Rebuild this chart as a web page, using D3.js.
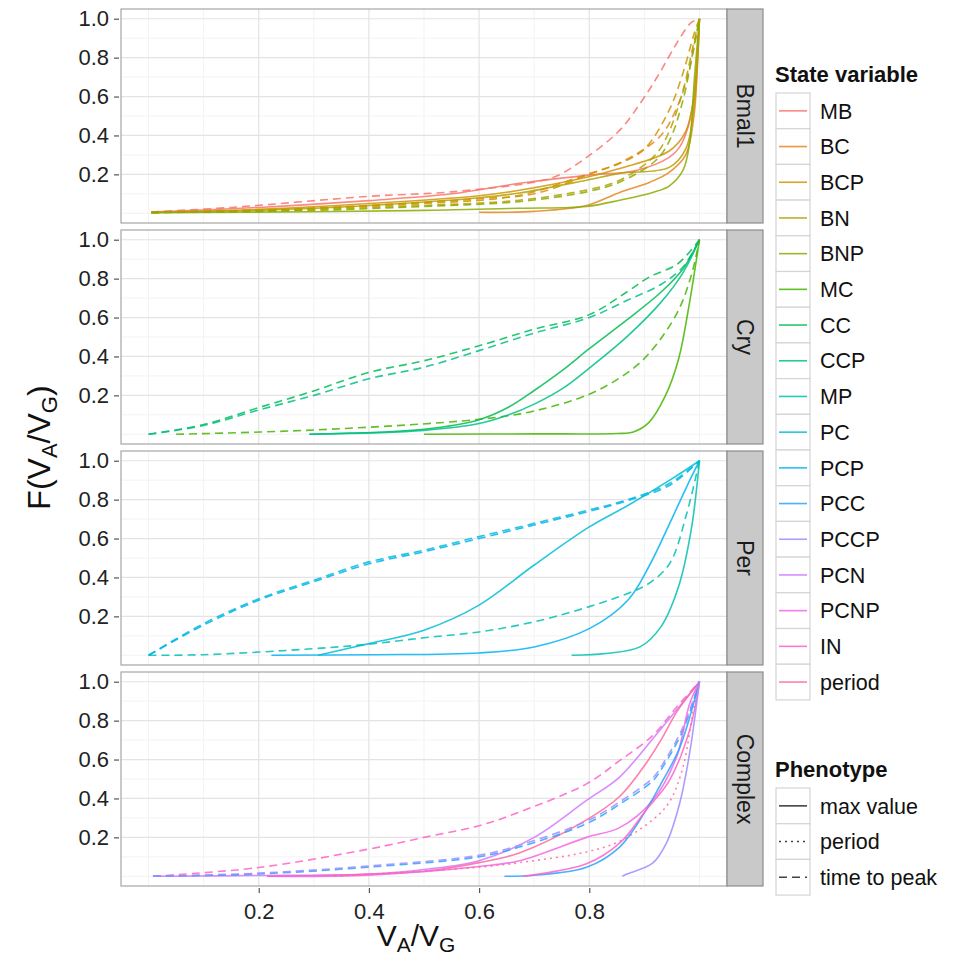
<!DOCTYPE html>
<html>
<head>
<meta charset="utf-8">
<script src="https://cdn.jsdelivr.net/npm/d3@7"></script>
<style>
  body { margin: 0; background: #fff; }
  svg { display: block; }
  text { font-family: "Liberation Sans", Arial, Helvetica, sans-serif; }
</style>
</head>
<body>
<svg id="chart" width="968" height="955"></svg>
<script>
// ---- categories ----
const facets = ["Bmal1", "Cry", "Per", "Complex"];
const stateVariables = ["MB", "BC", "BCP", "BN", "BNP", "MC", "CC", "CCP", "MP",
  "PC", "PCP", "PCC", "PCCP", "PCN", "PCNP", "IN", "period"];
const phenotypes = ["max value", "period", "time to peak"];
const xTicks = [0.2, 0.4, 0.6, 0.8];
const yTicks = [0.2, 0.4, 0.6, 0.8, 1.0];
const xMinor = [0.0, 0.1, 0.3, 0.5, 0.7, 0.9, 1.0];
const yMinor = [0.0, 0.1, 0.3, 0.5, 0.7, 0.9];

// ---- curves: [V_A/V_G, F(V_A/V_G)] ----
// Bmal1
const bmal1_MB_ttp  = [[0.005,0.007],[0.15,0.03],[0.4,0.087],[0.55,0.11],[0.7,0.16],[0.74,0.19],[0.795,0.287],[0.855,0.426],[0.896,0.58],[0.927,0.718],[0.958,0.87],[0.985,0.98],[1.0,1.0]];
const bmal1_MB_max  = [[0.005,0.006],[0.2,0.03],[0.4,0.065],[0.55,0.1],[0.673,0.154],[0.795,0.195],[0.885,0.22],[0.945,0.287],[0.964,0.34],[0.98,0.45],[0.99,0.6],[0.997,0.85],[1.0,1.0]];
const bmal1_BC_max  = [[0.6,0.005],[0.7,0.01],[0.795,0.04],[0.855,0.107],[0.91,0.16],[0.945,0.21],[0.975,0.3],[0.99,0.5],[0.997,0.8],[1.0,1.0]];
const bmal1_BC_ttp  = [[0.005,0.004],[0.2,0.015],[0.4,0.04],[0.6,0.075],[0.7,0.1],[0.8,0.2],[0.87,0.28],[0.93,0.4],[0.96,0.55],[0.98,0.72],[0.995,0.92],[1.0,1.0]];
const bmal1_BCP_max = [[0.005,0.005],[0.2,0.02],[0.4,0.05],[0.6,0.09],[0.673,0.118],[0.795,0.185],[0.855,0.23],[0.945,0.32],[0.975,0.42],[0.99,0.6],[0.997,0.85],[1.0,1.0]];
const bmal1_BCP_ttp = [[0.005,0.004],[0.3,0.025],[0.5,0.05],[0.673,0.092],[0.795,0.2],[0.855,0.256],[0.9,0.33],[0.945,0.53],[0.97,0.72],[0.99,0.92],[1.0,1.0]];
const bmal1_BN_max  = [[0.005,0.004],[0.2,0.015],[0.4,0.04],[0.6,0.08],[0.673,0.104],[0.795,0.17],[0.855,0.205],[0.945,0.236],[0.975,0.33],[0.99,0.55],[1.0,1.0]];
const bmal1_BN_ttp  = [[0.005,0.003],[0.3,0.02],[0.5,0.04],[0.673,0.067],[0.795,0.12],[0.855,0.17],[0.92,0.3],[0.945,0.42],[0.97,0.63],[0.99,0.88],[1.0,1.0]];
const bmal1_BNP_ttp = [[0.005,0.003],[0.3,0.015],[0.5,0.035],[0.673,0.06],[0.795,0.11],[0.855,0.16],[0.92,0.27],[0.945,0.37],[0.97,0.58],[0.99,0.86],[1.0,1.0]];
const bmal1_BNP_max = [[0.005,0.003],[0.3,0.008],[0.5,0.015],[0.673,0.026],[0.795,0.035],[0.855,0.067],[0.915,0.107],[0.945,0.14],[0.97,0.22],[0.982,0.36],[0.991,0.7],[1.0,1.0]];
// Cry
const cry_CC_ttp  = [[0.0,0.0],[0.1,0.05],[0.2,0.137],[0.3,0.223],[0.4,0.318],[0.5,0.378],[0.6,0.455],[0.7,0.54],[0.8,0.615],[0.87,0.735],[0.91,0.81],[0.96,0.875],[1.0,1.0]];
const cry_CCP_ttp = [[0.0,0.0],[0.1,0.045],[0.2,0.125],[0.3,0.2],[0.4,0.285],[0.5,0.345],[0.6,0.43],[0.7,0.52],[0.8,0.6],[0.87,0.69],[0.93,0.77],[0.97,0.86],[1.0,1.0]];
const cry_MC_ttp  = [[0.05,0.0],[0.3,0.022],[0.6,0.077],[0.7,0.12],[0.8,0.206],[0.87,0.318],[0.91,0.42],[0.96,0.627],[0.985,0.815],[1.0,1.0]];
const cry_CC_max  = [[0.292,0.0],[0.5,0.026],[0.6,0.075],[0.654,0.14],[0.7,0.225],[0.754,0.335],[0.8,0.44],[0.87,0.592],[0.93,0.73],[0.97,0.85],[1.0,1.0]];
const cry_CCP_max = [[0.292,0.0],[0.5,0.02],[0.6,0.055],[0.654,0.1],[0.7,0.155],[0.754,0.24],[0.8,0.34],[0.87,0.506],[0.93,0.678],[0.97,0.83],[1.0,1.0]];
const cry_MC_max  = [[0.5,0.0],[0.7,0.002],[0.85,0.004],[0.88,0.012],[0.908,0.06],[0.938,0.197],[0.962,0.386],[0.98,0.644],[1.0,1.0]];
// Per
const per_PC_ttp  = [[0.0,0.0],[0.1,0.163],[0.2,0.29],[0.3,0.386],[0.4,0.48],[0.5,0.54],[0.6,0.61],[0.7,0.678],[0.8,0.747],[0.87,0.8],[0.946,0.884],[1.0,1.0]];
const per_PCP_ttp = [[0.0,0.0],[0.1,0.155],[0.2,0.283],[0.3,0.378],[0.4,0.47],[0.5,0.532],[0.6,0.6],[0.7,0.67],[0.8,0.74],[0.87,0.795],[0.946,0.874],[1.0,1.0]];
const per_MP_ttp  = [[0.0,0.0],[0.1,0.003],[0.3,0.034],[0.4,0.057],[0.5,0.09],[0.6,0.12],[0.7,0.172],[0.8,0.25],[0.87,0.318],[0.908,0.369],[0.946,0.472],[0.977,0.73],[1.0,1.0]];
const per_PC_max  = [[0.308,0.0],[0.4,0.06],[0.5,0.129],[0.6,0.258],[0.7,0.464],[0.8,0.66],[0.87,0.77],[0.946,0.9],[1.0,1.0]];
const per_PCP_max = [[0.223,0.0],[0.4,0.003],[0.6,0.012],[0.7,0.043],[0.8,0.137],[0.87,0.283],[0.908,0.455],[0.946,0.678],[0.977,0.867],[1.0,1.0]];
const per_MP_max  = [[0.768,0.0],[0.83,0.009],[0.892,0.043],[0.93,0.146],[0.962,0.352],[0.985,0.644],[1.0,1.0]];
// Complex
const cx_IN_ttp     = [[0.008,0.0],[0.2,0.045],[0.4,0.14],[0.5,0.2],[0.6,0.26],[0.673,0.33],[0.795,0.475],[0.855,0.594],[0.915,0.723],[0.958,0.868],[1.0,1.0]];
const cx_PCN_max    = [[0.008,0.0],[0.2,0.004],[0.4,0.012],[0.5,0.035],[0.6,0.08],[0.7,0.2],[0.795,0.39],[0.855,0.51],[0.915,0.706],[0.96,0.86],[1.0,1.0]];
const cx_period_max = [[0.215,0.0],[0.5,0.026],[0.6,0.07],[0.673,0.12],[0.795,0.29],[0.855,0.41],[0.903,0.58],[0.93,0.7],[0.96,0.85],[1.0,1.0]];
const cx_PCC_ttp    = [[0.008,0.0],[0.2,0.012],[0.4,0.047],[0.6,0.1],[0.673,0.15],[0.795,0.27],[0.855,0.37],[0.915,0.49],[0.933,0.56],[0.97,0.75],[1.0,1.0]];
const cx_PCCP_ttp   = [[0.008,0.0],[0.2,0.016],[0.4,0.053],[0.6,0.108],[0.673,0.16],[0.795,0.283],[0.855,0.382],[0.915,0.505],[0.933,0.575],[0.97,0.765],[1.0,1.0]];
const cx_PCNP_max   = [[0.215,0.0],[0.4,0.006],[0.6,0.05],[0.673,0.08],[0.795,0.2],[0.855,0.25],[0.915,0.39],[0.958,0.61],[0.982,0.885],[1.0,1.0]];
const cx_period_per = [[0.338,0.0],[0.6,0.047],[0.673,0.07],[0.795,0.125],[0.855,0.18],[0.915,0.29],[0.945,0.38],[0.97,0.56],[0.988,0.84],[1.0,1.0]];
const cx_PCC_max    = [[0.646,0.0],[0.7,0.005],[0.795,0.046],[0.855,0.15],[0.903,0.34],[0.933,0.49],[0.964,0.66],[1.0,1.0]];
const cx_IN_max     = [[0.68,0.0],[0.795,0.064],[0.855,0.17],[0.903,0.34],[0.945,0.49],[0.982,0.75],[1.0,1.0]];
const cx_PCCP_max   = [[0.86,0.0],[0.867,0.01],[0.915,0.067],[0.94,0.17],[0.964,0.374],[0.982,0.63],[1.0,1.0]];

// facet, state variable, phenotype, points
const series = [
  ["Bmal1","MB","time to peak",bmal1_MB_ttp], ["Bmal1","MB","max value",bmal1_MB_max],
  ["Bmal1","BC","max value",bmal1_BC_max], ["Bmal1","BC","time to peak",bmal1_BC_ttp],
  ["Bmal1","BCP","max value",bmal1_BCP_max], ["Bmal1","BCP","time to peak",bmal1_BCP_ttp],
  ["Bmal1","BN","max value",bmal1_BN_max], ["Bmal1","BN","time to peak",bmal1_BN_ttp],
  ["Bmal1","BNP","time to peak",bmal1_BNP_ttp], ["Bmal1","BNP","max value",bmal1_BNP_max],
  ["Cry","CC","time to peak",cry_CC_ttp], ["Cry","CCP","time to peak",cry_CCP_ttp],
  ["Cry","MC","time to peak",cry_MC_ttp], ["Cry","CC","max value",cry_CC_max],
  ["Cry","CCP","max value",cry_CCP_max], ["Cry","MC","max value",cry_MC_max],
  ["Per","PC","time to peak",per_PC_ttp], ["Per","PCP","time to peak",per_PCP_ttp],
  ["Per","MP","time to peak",per_MP_ttp], ["Per","PC","max value",per_PC_max],
  ["Per","PCP","max value",per_PCP_max], ["Per","MP","max value",per_MP_max],
  ["Complex","IN","time to peak",cx_IN_ttp], ["Complex","PCN","max value",cx_PCN_max],
  ["Complex","period","max value",cx_period_max], ["Complex","PCC","time to peak",cx_PCC_ttp],
  ["Complex","PCCP","time to peak",cx_PCCP_ttp], ["Complex","PCNP","max value",cx_PCNP_max],
  ["Complex","period","period",cx_period_per], ["Complex","PCC","max value",cx_PCC_max],
  ["Complex","IN","max value",cx_IN_max], ["Complex","PCCP","max value",cx_PCCP_max]
];

// ---- colour: evenly spaced hues in polar CIE-Luv (L=65, C=100) ----
function polarLuv(h, c, l) {
  const r = h * Math.PI / 180, U = c * Math.cos(r), V = c * Math.sin(r);
  const Xn = 95.047, Yn = 100, Zn = 108.883;
  const un = 4 * Xn / (Xn + 15 * Yn + 3 * Zn), vn = 9 * Yn / (Xn + 15 * Yn + 3 * Zn);
  const Y = l > 7.999592 ? Yn * Math.pow((l + 16) / 116, 3) : Yn * l / 903.3;
  const u = U / (13 * l) + un, v = V / (13 * l) + vn;
  const X = 9 * Y * u / (4 * v), Z = -X / 3 - 5 * Y + 3 * Y / v;
  const gam = t => t > 0.0031308 ? 1.055 * Math.pow(t, 1 / 2.4) - 0.055 : 12.92 * t;
  const cl = t => Math.round(255 * Math.max(0, Math.min(1, gam(t / 100))));
  return d3.rgb(cl(3.240479 * X - 1.537150 * Y - 0.498535 * Z),
                cl(-0.969256 * X + 1.875992 * Y + 0.041556 * Z),
                cl(0.055648 * X - 0.204043 * Y + 1.057311 * Z)).formatHex();
}
const hues = stateVariables.map((_, i) => 15 + i * 360 / stateVariables.length);
const color = d3.scaleOrdinal().domain(stateVariables).range(hues.map(h => polarLuv(h, 100, 65)));
const dash = d3.scaleOrdinal().domain(phenotypes).range([null, "2,4", "8,5"]);

// ---- layout ----
const svg = d3.select("#chart");
const left = 121, right = 727, stripW = 36;
const top0 = 9, panelH = 214, gap = 7;
const fontMain = '"Liberation Sans", Arial, sans-serif';

const x = d3.scaleLinear().domain([-0.05, 1.05]).range([left, right]);
const yFor = i => d3.scaleLinear().domain([-0.05, 1.05])
  .range([top0 + i * (panelH + gap) + panelH, top0 + i * (panelH + gap)]);

facets.forEach((facet, i) => {
  const y = yFor(i);
  const pTop = top0 + i * (panelH + gap);
  const g = svg.append("g");

  // grid
  g.append("g").selectAll("line").data(xMinor).join("line")
    .attr("x1", d => x(d)).attr("x2", d => x(d)).attr("y1", pTop).attr("y2", pTop + panelH)
    .attr("stroke", "#f3f3f3").attr("stroke-width", 1);
  g.append("g").selectAll("line").data(yMinor).join("line")
    .attr("x1", left).attr("x2", right).attr("y1", d => y(d)).attr("y2", d => y(d))
    .attr("stroke", "#f3f3f3").attr("stroke-width", 1);
  g.append("g").selectAll("line").data(xTicks).join("line")
    .attr("x1", d => x(d)).attr("x2", d => x(d)).attr("y1", pTop).attr("y2", pTop + panelH)
    .attr("stroke", "#e3e3e3").attr("stroke-width", 1.2);
  g.append("g").selectAll("line").data(yTicks).join("line")
    .attr("x1", left).attr("x2", right).attr("y1", d => y(d)).attr("y2", d => y(d))
    .attr("stroke", "#e3e3e3").attr("stroke-width", 1.2);

  // curves
  const clipId = "clip" + i;
  svg.append("clipPath").attr("id", clipId).append("rect")
    .attr("x", left).attr("y", pTop).attr("width", right - left).attr("height", panelH);
  const line = d3.line().x(d => x(d[0])).y(d => y(d[1])).curve(d3.curveCatmullRom.alpha(0.5));
  g.append("g").attr("clip-path", `url(#${clipId})`)
    .selectAll("path").data(series.filter(s => s[0] === facet)).join("path")
    .attr("d", s => line(s[3]))
    .attr("fill", "none")
    .attr("stroke", s => color(s[1]))
    .attr("stroke-opacity", 0.85)
    .attr("stroke-width", 1.6)
    .attr("stroke-dasharray", s => dash(s[2]))
    .attr("stroke-linejoin", "round");

  // panel border
  g.append("rect").attr("x", left).attr("y", pTop).attr("width", right - left).attr("height", panelH)
    .attr("fill", "none").attr("stroke", "#a6a6a6").attr("stroke-width", 1.2);

  // strip
  g.append("rect").attr("x", right).attr("y", pTop).attr("width", stripW).attr("height", panelH)
    .attr("fill", "#c9c9c9").attr("stroke", "#8c8c8c").attr("stroke-width", 1.2);
  g.append("text")
    .attr("transform", `translate(${right + stripW / 2},${pTop + panelH / 2}) rotate(90)`)
    .attr("text-anchor", "middle").attr("dy", "0.36em")
    .attr("font-size", 23).attr("fill", "#1a1a1a").text(facet);

  // y axis
  const ya = g.append("g").attr("transform", `translate(${left - 2},0)`)
    .call(d3.axisLeft(y).tickValues(yTicks).tickFormat(d3.format(".1f")).tickSize(5).tickPadding(5));
  ya.select(".domain").remove();
  ya.selectAll(".tick line").attr("stroke", "#555").attr("stroke-width", 1.2);
  ya.selectAll(".tick text").attr("font-size", 22).attr("fill", "#222").attr("font-family", fontMain);

  if (i === facets.length - 1) {
    const xa = g.append("g").attr("transform", `translate(0,${pTop + panelH + 2})`)
      .call(d3.axisBottom(x).tickValues(xTicks).tickFormat(d3.format(".1f")).tickSize(5).tickPadding(10));
    xa.select(".domain").remove();
    xa.selectAll(".tick line").attr("stroke", "#555").attr("stroke-width", 1.2);
    xa.selectAll(".tick text").attr("font-size", 22).attr("fill", "#222").attr("font-family", fontMain);
  }
});

// ---- axis titles ----
const plotMidY = top0 + (4 * panelH + 3 * gap) / 2;
const xt = svg.append("text").attr("x", (left + right) / 2 - 8).attr("y", 946)
  .attr("text-anchor", "middle").attr("font-size", 30).attr("fill", "#111");
xt.append("tspan").text("V");
xt.append("tspan").attr("font-size", 21).attr("dy", 6).text("A");
xt.append("tspan").attr("dy", -6).text("/V");
xt.append("tspan").attr("font-size", 21).attr("dy", 6).text("G");

const yt = svg.append("text")
  .attr("transform", `translate(50,${plotMidY}) rotate(-90)`)
  .attr("text-anchor", "middle").attr("font-size", 32).attr("fill", "#111");
yt.append("tspan").text("F(V");
yt.append("tspan").attr("font-size", 22).attr("dy", 7).text("A");
yt.append("tspan").attr("dy", -7).text("/V");
yt.append("tspan").attr("font-size", 22).attr("dy", 7).text("G");
yt.append("tspan").attr("dy", -7).text(")");

// ---- legends ----
const keyX = 776, keyW = 34, keyH = 35.7;
function legend(title, titleY, items, stroke, dashOf) {
  const lg = svg.append("g");
  lg.append("text").attr("x", keyX - 1).attr("y", titleY).attr("font-size", 22)
    .attr("font-weight", "bold").attr("fill", "#111").text(title);
  const rows = lg.selectAll("g.key").data(items).join("g").attr("class", "key")
    .attr("transform", (d, k) => `translate(${keyX},${titleY + 11 + k * keyH})`);
  rows.append("rect").attr("width", keyW).attr("height", keyH)
    .attr("fill", "#fff").attr("stroke", "#d4d4d4").attr("stroke-width", 1.2);
  rows.append("line").attr("x1", 3).attr("x2", keyW - 3).attr("y1", keyH / 2).attr("y2", keyH / 2)
    .attr("stroke", stroke).attr("stroke-opacity", 0.85).attr("stroke-width", 1.6).attr("stroke-dasharray", dashOf);
  rows.append("text").attr("x", keyW + 10).attr("y", keyH / 2).attr("dy", "0.36em")
    .attr("font-size", 21.5).attr("fill", "#111").text(d => d);
}
legend("State variable", 82, stateVariables, d => color(d), null);
legend("Phenotype", 777, phenotypes, "#222", d => dash(d));
</script>
</body>
</html>
